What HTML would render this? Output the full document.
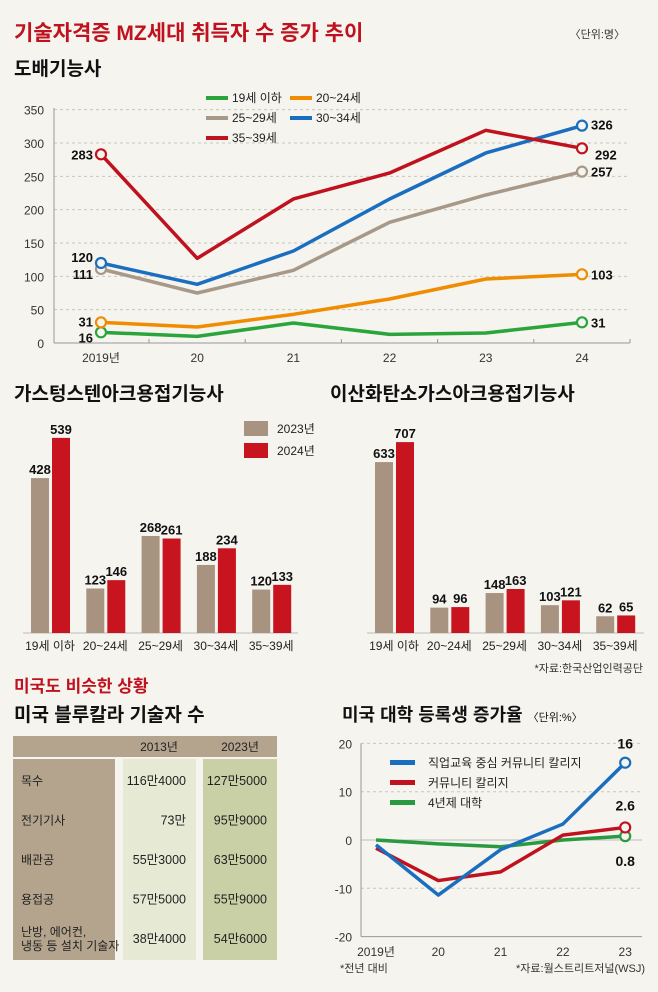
<!DOCTYPE html>
<html><head><meta charset="utf-8"><style>
body{margin:0;width:658px;height:987px;background:#f5f4ef;overflow:hidden;font-family:"Liberation Sans","Noto Sans CJK KR",sans-serif}
svg text{font-family:"Liberation Sans","Noto Sans CJK KR",sans-serif}
</style></head><body>
<svg width="658" height="987" viewBox="0 0 658 987">
<text x="14" y="40" font-size="21" font-weight="bold" fill="#c0121e">기술자격증 MZ세대 취득자 수 증가 추이</text>
<text x="625" y="38" font-size="11" fill="#333" text-anchor="end">〈단위:명〉</text>
<text x="14" y="75" font-size="19" font-weight="bold" fill="#111">도배기능사</text>
<g id="c1"></g>
<text x="14" y="400" font-size="19" font-weight="bold" fill="#111">가스텅스텐아크용접기능사</text>
<text x="330" y="400" font-size="19" font-weight="bold" fill="#111">이산화탄소가스아크용접기능사</text>
<g id="c2"></g>
<g id="c3"></g>
<rect x="244" y="421" width="24" height="15" fill="#a89380"/>
<text x="277" y="433" font-size="12" fill="#222">2023년</text>
<rect x="244" y="443" width="24" height="15" fill="#c8141f"/>
<text x="277" y="455" font-size="12" fill="#222">2024년</text>
<text x="643" y="672" font-size="11" fill="#333" text-anchor="end">*자료:한국산업인력공단</text>
<text x="14" y="692" font-size="17" font-weight="bold" fill="#c0121e">미국도 비슷한 상황</text>
<text x="14" y="721" font-size="19" font-weight="bold" fill="#111">미국 블루칼라 기술자 수</text>
<text x="342" y="721" font-size="18" font-weight="bold" fill="#111">미국 대학 등록생 증가율 <tspan font-size="11" font-weight="normal">〈단위:%〉</tspan></text>
<g id="tbl"></g>
<g id="c4"></g>
<text x="340" y="972" font-size="11" fill="#333">*전년 대비</text>
<text x="645" y="972" font-size="11" fill="#333" text-anchor="end">*자료:월스트리트저널(WSJ)</text>
</svg>
<script>
const NS="http://www.w3.org/2000/svg";
function mk(p,t,a,txt){const e=document.createElementNS(NS,t);for(const k in a)e.setAttribute(k,a[k]);if(txt!==undefined)e.textContent=txt;p.appendChild(e);return e;}

// Chart 1 data
const years1=["2019년","20","21","22","23","24"];
const yTicks1=[0,50,100,150,200,250,300,350];
const s19=[16,10,30,13,15,31];
const s20=[31,24,43,66,96,103];
const s25=[111,75,109,181,222,257];
const s30=[120,88,138,216,285,326];
const s35=[283,127,216,255,319,292];
const names1=["19세 이하","20~24세","25~29세","30~34세","35~39세"];

// Chart 2/3 data
const cats=["19세 이하","20~24세","25~29세","30~34세","35~39세"];
const gtaw23=[428,123,268,188,120];
const gtaw24=[539,146,261,234,133];
const co223=[633,94,148,103,62];
const co224=[707,96,163,121,65];

// Table data
const tblYears=["2013년","2023년"];
const tblRows=["목수","전기기사","배관공","용접공","난방, 에어컨,|냉동 등 설치 기술자"];
const tbl2013=["116만4000","73만","55만3000","57만5000","38만4000"];
const tbl2023=["127만5000","95만9000","63만5000","55만9000","54만6000"];

// Chart 4 data
const years4=["2019년","20","21","22","23"];
const yTicks4=[-20,-10,0,10,20];
const sVoc=[-1,-11.4,-2,3.3,16];
const sCom=[-1.7,-8.4,-6.6,1,2.6];
const sUni=[0,-0.8,-1.4,0,0.8];

// ---- chart 1
(function(){
 const g=document.getElementById('c1');
 const X=i=>101+i*96.2, Y=v=>343-v*0.6667;
 yTicks1.forEach(t=>{
  if(t>0){const l=mk(g,'line',{x1:54,x2:630,y1:Y(t),y2:Y(t),stroke:'#c8c6bf','stroke-dasharray':'3,3'});
  }
  const tx=mk(g,'text',{x:44,y:Y(t)+5,'font-size':12,fill:'#333','text-anchor':'end'},t);
  
 });
 const ax=mk(g,'line',{x1:54,x2:630,y1:343,y2:343,stroke:'#999'});
 
 const ay=mk(g,'line',{x1:54,x2:54,y1:108,y2:343,stroke:'#999'});
 
 years1.forEach((y,i)=>{
  const tx=mk(g,'text',{x:X(i),y:362,'font-size':12,fill:'#333','text-anchor':'middle'},y);
  
 });
 for(let i=0;i<years1.length;i++){const tk=mk(g,'line',{x1:X(i)+48,x2:X(i)+48,y1:339,y2:343,stroke:'#999'});}
 const series=[s19,s20,s25,s30,s35], cols=['#2aa53c','#f08c00','#a89888','#1a6ec0','#c0121e'];
 const lastOff=[0,0,0,-1,6], firstOff=[5,-1,5,-6,0];
 series.forEach((s,k)=>{
  const p=mk(g,'polyline',{points:s.map((v,i)=>X(i)+','+Y(v)).join(' '),fill:'none',stroke:cols[k],'stroke-width':3.5,'stroke-linejoin':'round'});
  
  [0,s.length-1].forEach(i=>{
   const c=mk(g,'circle',{cx:X(i),cy:Y(s[i]),r:5,fill:'#f5f4ef',stroke:cols[k],'stroke-width':2.2});
   
   const lx=i===0?X(i)-8:X(i)+9+(k===4?4:0);
   const t=mk(g,'text',{x:lx,y:Y(s[i])+5+(i===0?firstOff[k]:lastOff[k]),'font-size':13,'font-weight':'bold',fill:'#111','text-anchor':i===0?'end':'start'},s[i]);
   
  });
 });
 const lp=[[206,98],[290,98],[206,118],[290,118],[206,138]];
 const lc=[0,1,2,3,4];
 lc.forEach(k=>{
  const r=mk(g,'rect',{x:lp[k][0],y:lp[k][1]-2,width:22,height:4,fill:cols[k]});
  
  const t=mk(g,'text',{x:lp[k][0]+26,y:lp[k][1]+4,'font-size':12,fill:'#222'},names1[k]);
  
 });
})();

// ---- bars
function bars(id,a,b,x0,scale,axL,axR){
 const g=document.getElementById(id);const base=633;
 const ax=mk(g,'line',{x1:axL,x2:axR,y1:base,y2:base,stroke:'#bbb'});
 
 cats.forEach((c,i)=>{
  const gx=x0+i*55.3;
  [[a,'#a89380',0],[b,'#c8141f',21]].forEach(([s,col,off])=>{
   const h=s[i]*scale;
   const r=mk(g,'rect',{x:gx+off,y:base-h,width:18,height:h,fill:col});
   
   const t=mk(g,'text',{x:gx+off+9,y:base-h-4,'font-size':13,'font-weight':'bold',fill:'#111','text-anchor':'middle'},s[i]);
   
  });
  const t=mk(g,'text',{x:gx+19,y:650,'font-size':12,fill:'#222','text-anchor':'middle'},c);
  
 });
}
bars('c2',gtaw23,gtaw24,31,0.362,23,298);
bars('c3',co223,co224,375,0.27,367,644);

// ---- table
(function(){
 const g=document.getElementById('tbl');
 const h=mk(g,'rect',{x:13,y:736,width:264,height:21,fill:'#b4a48e'});
 
 tblYears.forEach((y,i)=>{const t=mk(g,'text',{x:[159,240][i],y:751,'font-size':12,fill:'#222','text-anchor':'middle'},y);});
 [[13,102,'#b4a48e'],[123,73,'#e6e9d4'],[203,74,'#c9d0a6']].forEach(([x,w,c],i)=>{
  const r=mk(g,'rect',{x:x,y:759,width:w,height:201,fill:c});
 });
 tblRows.forEach((rw,i)=>{
  const y=785+i*39.5;
  const parts=rw.split('|');
  parts.forEach((p,j)=>{const t=mk(g,'text',{x:21,y:y+(parts.length>1?(j-0.5)*14:0),'font-size':12,fill:'#222'},p);});
  const a=mk(g,'text',{x:186,y:y,'font-size':12.5,fill:'#222','text-anchor':'end'},tbl2013[i]);
  const b=mk(g,'text',{x:267,y:y,'font-size':12.5,fill:'#222','text-anchor':'end'},tbl2023[i]);
 });
})();

// ---- chart 4
(function(){
 const g=document.getElementById('c4');
 const X=i=>376+i*62.3, Y=v=>840-v*4.83;
 yTicks4.forEach(t=>{
  if(t>-20){const l=mk(g,'line',{x1:361,x2:642,y1:Y(t),y2:Y(t),stroke:t===0?'#bbb':'#c8c6bf','stroke-dasharray':t===0?'':'3,3'});}
  const tx=mk(g,'text',{x:352,y:Y(t)+5,'font-size':12,fill:'#333','text-anchor':'end'},t);
  
 });
 const ax=mk(g,'line',{x1:361,x2:642,y1:Y(-20),y2:Y(-20),stroke:'#999'});
 const ay=mk(g,'line',{x1:361,x2:361,y1:Y(20),y2:Y(-20),stroke:'#999'});
 years4.forEach((y,i)=>{const t=mk(g,'text',{x:X(i),y:956,'font-size':12,fill:'#333','text-anchor':'middle'},y);});
 const ser=[sVoc,sCom,sUni],cols=['#1a6ec0','#c0121e','#2a9a40'],nm=['직업교육 중심 커뮤니티 칼리지','커뮤니티 칼리지','4년제 대학'];
 [2,1,0].forEach(k=>{
  const s=ser[k];
  const p=mk(g,'polyline',{points:s.map((v,i)=>X(i)+','+Y(v)).join(' '),fill:'none',stroke:cols[k],'stroke-width':3.5,'stroke-linejoin':'round'});
  
  const n=s.length-1;
  const c=mk(g,'circle',{cx:X(n),cy:Y(s[n]),r:5,fill:'#f5f4ef',stroke:cols[k],'stroke-width':2.2});
  const dy=[-14,-17,30][k];
  const t=mk(g,'text',{x:X(n),y:Y(s[n])+dy,'font-size':14,'font-weight':'bold',fill:'#111','text-anchor':'middle'},s[n]);
  
  const r=mk(g,'rect',{x:390,y:762+k*20-2,width:25,height:5,fill:cols[k]});
  const lt=mk(g,'text',{x:428,y:767+k*20,'font-size':12,fill:'#222'},nm[k]);
 });
})();
</script>
</body></html>
